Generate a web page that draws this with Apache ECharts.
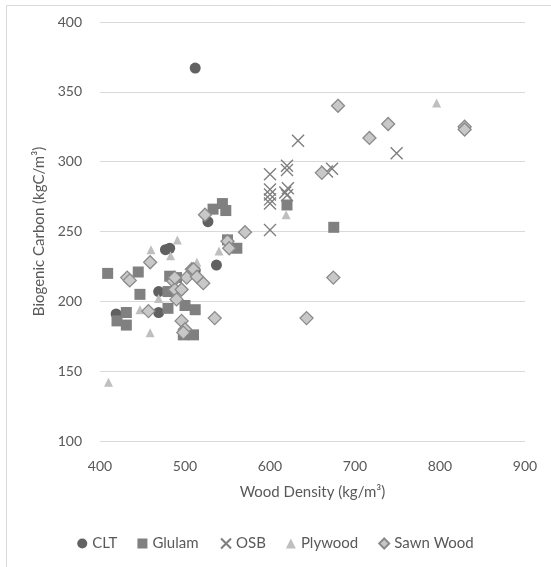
<!DOCTYPE html>
<html>
<head>
<meta charset="utf-8">
<script src="https://cdn.jsdelivr.net/npm/echarts@6/dist/echarts.min.js"></script>
<style>
html,body{margin:0;padding:0;background:#fff;}
#c{width:551px;height:567px;}
</style>
</head>
<body>
<div id="c"></div>
<script>
const xTicks = [400, 500, 600, 700, 800, 900];
const yTicks = [100, 150, 200, 250, 300, 350, 400];
const seriesNames = ['CLT', 'Glulam', 'OSB', 'Plywood', 'Sawn Wood'];

const cltData = [[512,367],[477,237],[482,238],[527,257],[537,226],[512,222],[469,207],[469,192],[419,191]];
const glulamData = [[409,220],[445,221],[447,205],[431,192],[420,186],[431,183],[482,218],[490,217],[480,207],[480,195],[500,197],[512,194],[498,176],[510,176],[544,270],[533,266],[548,265],[550,244],[561,238],[620,269],[675,253]];
const osbData = [[600,291],[620,297],[620,294],[600,280],[600,276.5],[600,273],[600,270],[618,278],[620,276],[621,281],[600,251],[633,315],[749,306],[667,293],[673,295]];
const plywoodData = [[410,142],[460,237],[491,244],[483,232.6],[514,228],[540,236],[619,262],[796,342],[469,202],[447,194],[459,177.5]];
const sawnData = [[680,340],[739,327],[717,317],[829,325],[829,323],[661,292],[674.5,217],[643,188],[535,188],[570.6,249.5],[550,243],[552,238],[523.5,262],[508,223],[459,228],[432,217],[435,215],[486,214.5],[502,217],[510,223],[521.5,213],[488,208.5],[496,208.5],[490,201.4],[496,186],[500,180],[498,177.6],[457,193],[514,217.6],[488,217]];

const font = 'Lato, "Open Sans", sans-serif';
const txt = '#595959';
const chart = echarts.init(document.getElementById('c'), null, {renderer:'canvas'});
chart.setOption({
  animation:false,
  backgroundColor:'#fff',
  graphic:[{type:'rect', shape:{x:6.5,y:5.5,width:600,height:700}, style:{fill:'none', stroke:'#d9d9d9', lineWidth:1}, silent:true}],
  grid:{left:100, right:26, top:22, bottom:126},
  xAxis:{type:'value', min:xTicks[0], max:xTicks[xTicks.length-1], interval:100,
    name:'Wood Density (kg/m³)', nameLocation:'middle', nameGap:44,
    nameTextStyle:{fontFamily:font, fontSize:15, color:txt},
    axisLine:{show:false}, axisTick:{show:false}, splitLine:{show:false},
    axisLabel:{fontFamily:font, fontSize:14, color:txt, margin:18}},
  yAxis:{type:'value', min:yTicks[0], max:yTicks[yTicks.length-1], interval:50,
    name:'Biogenic Carbon (kgC/m³)', nameLocation:'middle', nameGap:50,
    nameTextStyle:{fontFamily:font, fontSize:15, color:txt},
    axisLine:{show:false}, axisTick:{show:false},
    splitLine:{show:true, lineStyle:{color:'#d9d9d9', width:1}},
    axisLabel:{fontFamily:font, fontSize:14, color:txt, margin:18}},
  legend:{bottom:11, left:'center', itemGap:20, itemWidth:10, itemHeight:10,
    textStyle:{fontFamily:font, fontSize:15, color:txt},
    data:[
      {name:'CLT', icon:'circle'},
      {name:'Glulam', icon:'rect'},
      {name:'OSB', icon:'path://M0,0L10,10M10,0L0,10'},
      {name:'Plywood', icon:'triangle'},
      {name:'Sawn Wood', icon:'diamond'}
    ]},
  series:[
    {name:'CLT', type:'scatter', data:cltData, symbol:'circle', symbolSize:11,
      itemStyle:{color:'#616161', opacity:1}},
    {name:'Glulam', type:'scatter', data:glulamData, symbol:'rect', symbolSize:11,
      itemStyle:{color:'#808080', opacity:1}},
    {name:'OSB', type:'scatter', data:osbData, symbol:'path://M0,0L10,10M10,0L0,10', symbolSize:12,
      itemStyle:{color:'none', borderColor:'#7f7f7f', borderWidth:1.4, opacity:1}},
    {name:'Plywood', type:'scatter', data:plywoodData, symbol:'triangle', symbolSize:9,
      itemStyle:{color:'#bfbfbf', opacity:1}},
    {name:'Sawn Wood', type:'scatter', data:sawnData, symbol:'diamond', symbolSize:13,
      itemStyle:{color:'#c8c8c8', borderColor:'#8a8a8a', borderWidth:1.3, opacity:1}}
  ]
});
</script>
</body>
</html>
